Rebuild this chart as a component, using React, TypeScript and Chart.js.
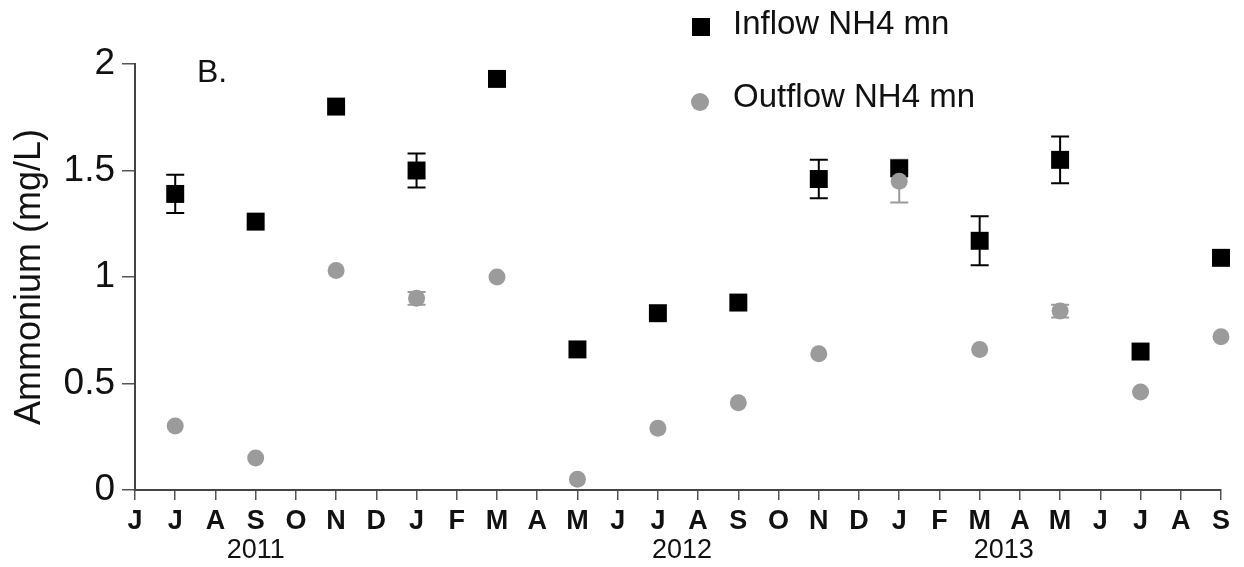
import React, { useEffect, useRef } from "react";
import { Chart, registerables } from "chart.js";

Chart.register(...registerables);

const monthLabels = ["J","J","A","S","O","N","D","J","F","M","A","M","J","J","A","S","O","N","D","J","F","M","A","M","J","J","A","S"];
const sampleMonthIdx = [1, 3, 5, 7, 9, 11, 13, 15, 17, 19, 21, 23, 25, 27];
const inflow = [1.39, 1.26, 1.80, 1.50, 1.93, 0.66, 0.83, 0.88, 1.46, 1.51, 1.17, 1.55, 0.65, 1.09];
const inflowErr = [0.09, 0, 0, 0.08, 0, 0, 0, 0, 0.09, 0, 0.115, 0.11, 0, 0];
const outflow = [0.30, 0.15, 1.03, 0.90, 1.00, 0.05, 0.29, 0.41, 0.64, 1.45, 0.66, 0.84, 0.46, 0.72];
const outflowErr = [0, 0, 0, 0.03, 0, 0, 0, 0, 0, 0.10, 0, 0.03, 0, 0];
const yearLabels = ["2011", "2012", "2013"];
const yearPos = [3, 13.6, 21.6];
const seriesNames = ["Inflow NH4 mn", "Outflow NH4 mn"];

const FONT = "'Liberation Sans', Arial, Helvetica, sans-serif";
const INFLOW_COLOR = "#000000";
const OUTFLOW_COLOR = "#9b9b9b";
const TEXT = "#111111";

const errorBarPlugin = {
  id: "errorBars",
  beforeDatasetsDraw(chart: any) {
    const ctx = chart.ctx;
    const xs = chart.scales.x;
    const ys = chart.scales.y;
    chart.data.datasets.forEach((ds: any) => {
      const errs: number[] = ds.errors || [];
      ctx.save();
      ctx.strokeStyle = ds.backgroundColor;
      ctx.lineWidth = 2;
      ds.data.forEach((p: any, i: number) => {
        const e = errs[i];
        if (!e) return;
        const x = xs.getPixelForValue(p.x);
        const yTop = ys.getPixelForValue(p.y + e);
        const yBot = ys.getPixelForValue(p.y - e);
        ctx.beginPath();
        ctx.moveTo(x, yTop);
        ctx.lineTo(x, yBot);
        ctx.moveTo(x - 9, yTop);
        ctx.lineTo(x + 9, yTop);
        ctx.moveTo(x - 9, yBot);
        ctx.lineTo(x + 9, yBot);
        ctx.stroke();
      });
      ctx.restore();
    });
  },
};

const decorPlugin = {
  id: "decor",
  afterDraw(chart: any) {
    const ctx = chart.ctx;
    const area = chart.chartArea;
    const xs = chart.scales.x;
    ctx.save();
    ctx.fillStyle = TEXT;
    ctx.font = `36px ${FONT}`;
    ctx.textAlign = "center";
    ctx.textBaseline = "middle";
    ctx.translate(30, (area.top + area.bottom) / 2);
    ctx.rotate(-Math.PI / 2);
    ctx.fillText("Ammonium (mg/L)", 0, 0);
    ctx.restore();

    ctx.save();
    ctx.fillStyle = TEXT;
    ctx.font = `27px ${FONT}`;
    ctx.textAlign = "center";
    ctx.textBaseline = "middle";
    yearLabels.forEach((t, i) => {
      ctx.fillText(t, xs.getPixelForValue(yearPos[i]), 551);
    });
    ctx.font = `32px ${FONT}`;
    ctx.textAlign = "left";
    ctx.fillText("B.", 197, 73);
    ctx.fillStyle = INFLOW_COLOR;
    ctx.fillRect(692, 18, 18, 18);
    ctx.fillStyle = OUTFLOW_COLOR;
    ctx.beginPath();
    ctx.arc(700, 102, 9, 0, Math.PI * 2);
    ctx.fill();
    ctx.fillStyle = TEXT;
    ctx.font = `33px ${FONT}`;
    ctx.fillText(seriesNames[0], 733, 25);
    ctx.fillText(seriesNames[1], 733, 98);
    ctx.restore();
  },
};

export default function App() {
  const ref = useRef<HTMLCanvasElement | null>(null);
  useEffect(() => {
    if (!ref.current) return;
    const chart = new Chart(ref.current, {
      type: "scatter",
      data: {
        datasets: [
          {
            label: seriesNames[0],
            data: sampleMonthIdx.map((m, i) => ({ x: m, y: inflow[i] })),
            errors: inflowErr,
            backgroundColor: INFLOW_COLOR,
            borderColor: INFLOW_COLOR,
            borderWidth: 0,
            pointStyle: "rect",
            pointRadius: 12.7,
            clip: false,
            order: 2,
          } as any,
          {
            label: seriesNames[1],
            data: sampleMonthIdx.map((m, i) => ({ x: m, y: outflow[i] })),
            errors: outflowErr,
            backgroundColor: OUTFLOW_COLOR,
            borderColor: OUTFLOW_COLOR,
            borderWidth: 0,
            pointStyle: "circle",
            pointRadius: 8.5,
            clip: false,
            order: 1,
          } as any,
        ],
      },
      options: {
        responsive: false,
        animation: false,
        layout: { padding: { top: 64, right: 23, left: 0, bottom: 0 } },
        plugins: {
          legend: { display: false },
          title: { display: false },
          tooltip: { enabled: false },
        },
        scales: {
          x: {
            type: "linear",
            min: 0,
            max: 27,
            afterFit: (s: any) => { s.height = 77; },
            border: { display: true, color: "#444", width: 2 },
            grid: { drawOnChartArea: false, drawTicks: true, tickLength: 10, color: "#555", lineWidth: 1.5 },
            ticks: {
              stepSize: 1,
              autoSkip: false,
              maxRotation: 0,
              padding: 5,
              color: TEXT,
              font: { family: FONT, size: 27, weight: "bold" },
              callback: (v: any) => monthLabels[Math.round(v)] ?? "",
            },
          },
          y: {
            min: 0,
            max: 2,
            afterFit: (s: any) => { s.width = 135; },
            border: { display: true, color: "#444", width: 2 },
            grid: { drawOnChartArea: false, drawTicks: true, tickLength: 13, color: "#555", lineWidth: 1.5 },
            ticks: {
              stepSize: 0.5,
              padding: 7,
              color: TEXT,
              font: { family: FONT, size: 37 },
              callback: (v: any) => `${+v}`,
            },
          },
        },
      } as any,
      plugins: [errorBarPlugin, decorPlugin],
    });
    return () => chart.destroy();
  }, []);
  return (
    <div style={{ position: "fixed", left: 0, top: 0, width: 1244, height: 567, background: "#fff" }}>
      <canvas ref={ref} width={1244} height={567} />
    </div>
  );
}
